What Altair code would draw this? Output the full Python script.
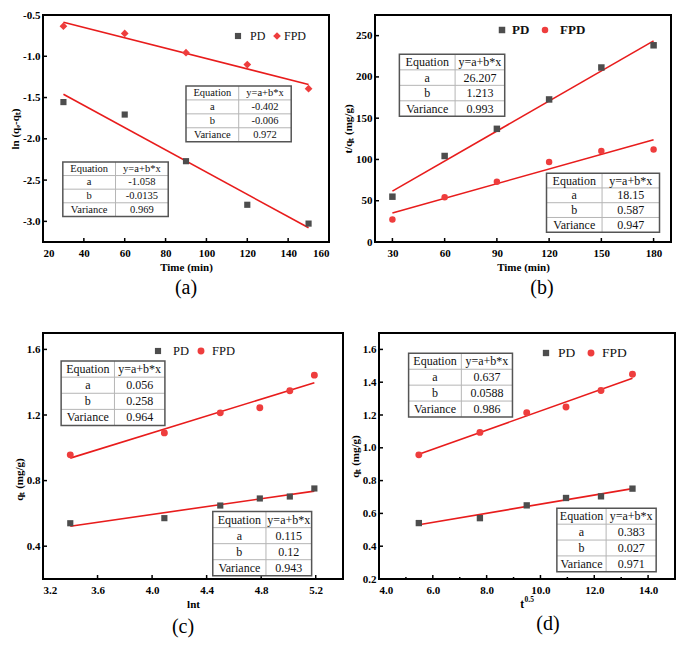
import altair as alt
import pandas as pd

FONT = "Liberation Serif"
PD_COLOR = "#4d4d4d"
FPD_COLOR = "#ee3d3d"
LINE_COLOR = "#e81c1c"

TABLE_LABELS = ["Equation", "a", "b", "Variance"]
TABLE_HEADER = "y=a+b*x"
SERIES = ["PD", "FPD"]

# ---------------- (a) pseudo-first-order ----------------
a_x = [30, 60, 90, 120, 150]
a_pd = [-1.555, -1.706, -2.271, -2.799, -3.027]
a_fpd = [-0.636, -0.724, -0.957, -1.101, -1.392]
a_fit_x = [30, 150]
a_fit_pd = [-1.46, -3.078]
a_fit_fpd = [-0.589, -1.341]
a_tab_pd = ["-1.058", "-0.0135", "0.969"]
a_tab_fpd = ["-0.402", "-0.006", "0.972"]
a_xticks = [20, 40, 60, 80, 100, 120, 140, 160]
a_yticks = [-3.0, -2.5, -2.0, -1.5, -1.0, -0.5]

# ---------------- (b) pseudo-second-order ----------------
b_x = [30, 60, 90, 120, 150, 180]
b_pd = [54.9, 104.2, 137.1, 172.7, 211.4, 238.3]
b_fpd = [27.3, 54.2, 73.1, 97.0, 110.2, 112.1]
b_fit_x = [30, 180]
b_fit_pd = [61.7, 243.6]
b_fit_fpd = [35.2, 123.9]
b_tab_pd = ["26.207", "1.213", "0.993"]
b_tab_fpd = ["18.15", "0.587", "0.947"]
b_xticks = [30, 60, 90, 120, 150, 180]
b_yticks = [0, 50, 100, 150, 200, 250]

# ---------------- (c) Elovich ----------------
c_x = [3.40, 4.09, 4.50, 4.79, 5.01, 5.19]
c_pd = [0.540, 0.571, 0.648, 0.691, 0.703, 0.752]
c_fpd = [0.957, 1.091, 1.213, 1.244, 1.348, 1.443]
c_fit_x = [3.40, 5.19]
c_fit_pd = [0.522, 0.736]
c_fit_fpd = [0.937, 1.397]
c_tab_pd = ["0.115", "0.12", "0.943"]
c_tab_fpd = ["0.056", "0.258", "0.964"]
c_xticks = [3.2, 3.6, 4.0, 4.4, 4.8, 5.2]
c_yticks = [0.4, 0.8, 1.2, 1.6]

# ---------------- (d) intra-particle diffusion ----------------
d_x = [5.48, 7.75, 9.49, 10.95, 12.25, 13.42]
d_pd = [0.541, 0.571, 0.649, 0.694, 0.704, 0.751]
d_fpd = [0.957, 1.094, 1.214, 1.249, 1.349, 1.449]
d_fit_x = [5.48, 13.42]
d_fit_pd = [0.531, 0.751]
d_fit_fpd = [0.961, 1.424]
d_tab_pd = ["0.383", "0.027", "0.971"]
d_tab_fpd = ["0.637", "0.0588", "0.986"]
d_xticks = [4.0, 6.0, 8.0, 10.0, 12.0, 14.0]
d_xminor = [5.0, 7.0, 9.0, 11.0, 13.0]
d_yticks = [0.2, 0.4, 0.6, 0.8, 1.0, 1.2, 1.4, 1.6]


def label_expr(fmt):
    return f"(datum.value < 0 ? '-' : '') + format(abs(datum.value), '{fmt}')"


def table_layers(values, box, fsize, X, Y):
    x0, xd, x1, yt, yb = box
    rh = (yb - yt) / 4.0
    bg = pd.DataFrame({"x": [x0], "x2": [x1], "y": [yt], "y2": [yb]})
    hl = pd.DataFrame({"x": [x0] * 3, "x2": [x1] * 3,
                       "y": [yt + rh * k for k in (1, 2, 3)]})
    hl["y2"] = hl["y"]
    vl = pd.DataFrame({"x": [xd], "x2": [xd], "y": [yt], "y2": [yb]})
    cells = pd.DataFrame({
        "x": [(x0 + xd) / 2] * 4 + [(xd + x1) / 2] * 4,
        "y": [yt + rh * (k + 0.5) for k in range(4)] * 2,
        "t": TABLE_LABELS + [TABLE_HEADER] + list(values),
    })
    X2, Y2 = alt.X2("x2:Q"), alt.Y2("y2:Q")
    return [
        alt.Chart(bg).mark_rect(fill="white", stroke=None).encode(x=X, x2=X2, y=Y, y2=Y2),
        alt.Chart(hl).mark_rule(color="#b5b5b5", strokeWidth=1).encode(x=X, x2=X2, y=Y, y2=Y2),
        alt.Chart(vl).mark_rule(color="#b5b5b5", strokeWidth=1).encode(x=X, x2=X2, y=Y, y2=Y2),
        alt.Chart(bg).mark_rect(fillOpacity=0, stroke="#555555", strokeWidth=1.5).encode(x=X, x2=X2, y=Y, y2=Y2),
        alt.Chart(cells).mark_text(font=FONT, fontSize=fsize, color="#111111",
                                   baseline="middle", align="center").encode(x=X, y=Y, text="t:N"),
    ]


def make_panel(c):
    W, H = c["W"], c["H"]
    xsc = alt.Scale(domain=c["xdom"], nice=False, zero=False)
    ysc = alt.Scale(domain=c["ydom"], nice=False, zero=False)
    common = dict(grid=False, ticks=False, tickSize=0, domain=False, labelFont=FONT,
                  labelFontWeight="bold", labelFontSize=11, labelColor="black",
                  titleFont=FONT, titleFontWeight="bold", titleFontSize=11,
                  titleColor="black")
    xaxis = alt.Axis(values=c["xticks"], labelExpr=label_expr(c["xfmt"]),
                     title=c["xtitle"], labelPadding=5, titlePadding=3, **common)
    yextra = {}
    if "titleY" in c:
        yextra["titleY"] = c["titleY"]
    yaxis = alt.Axis(values=c["yticks"], labelExpr=label_expr(c["yfmt"]),
                     title=c["ytitle"], labelPadding=3, titlePadding=2,
                     **yextra, **common)
    X = alt.X("x:Q", scale=xsc, axis=xaxis)
    Y = alt.Y("y:Q", scale=ysc, axis=yaxis)

    fit = pd.DataFrame({"x": c["fit_x"] * 2, "y": c["fit_pd"] + c["fit_fpd"],
                        "s": [SERIES[0]] * 2 + [SERIES[1]] * 2})
    pd_df = pd.DataFrame({"x": c["x"], "y": c["pd"]})
    fpd_df = pd.DataFrame({"x": c["x"], "y": c["fpd"]})

    layers = [
        alt.Chart(fit).mark_line(color=LINE_COLOR, strokeWidth=1.6).encode(x=X, y=Y, detail="s:N"),
        alt.Chart(pd_df).mark_point(shape="square", filled=True, size=c["psize"],
                                    color=PD_COLOR, opacity=1).encode(x=X, y=Y),
        alt.Chart(fpd_df).mark_point(shape=c["fshape"], filled=True, size=c["fsize"],
                                     color=FPD_COLOR, opacity=1).encode(x=X, y=Y),
        alt.Chart(pd.DataFrame({"x": c["xticks"]})).mark_rule(color="black", strokeWidth=1.5)
        .encode(x=X, y=alt.value(H), y2=alt.value(H - 4)),
        alt.Chart(pd.DataFrame({"y": c["yticks"]})).mark_rule(color="black", strokeWidth=1.5)
        .encode(y=Y, x=alt.value(0), x2=alt.value(4)),
    ]
    if c.get("xminor"):
        layers.append(
            alt.Chart(pd.DataFrame({"x": c["xminor"]})).mark_rule(color="black", strokeWidth=1.5)
            .encode(x=X, y=alt.value(H), y2=alt.value(H - 2)))
    for vals, box in c["tables"]:
        layers += table_layers(vals, box, c["tfont"], X, Y)

    # legend
    lg = c["legend"]
    ly = lg["y"]
    layers += [
        alt.Chart(pd.DataFrame({"t": [SERIES[0]]})).mark_point(
            shape="square", filled=True, size=c["psize"], color=PD_COLOR, opacity=1)
        .encode(x=alt.value(lg["m1"]), y=alt.value(ly)),
        alt.Chart(pd.DataFrame({"t": [SERIES[1]]})).mark_point(
            shape=c["fshape"], filled=True, size=c["fsize"], color=FPD_COLOR, opacity=1)
        .encode(x=alt.value(lg["m2"]), y=alt.value(ly)),
        alt.Chart(pd.DataFrame({"t": [SERIES[0]]})).mark_text(
            font=FONT, fontSize=lg["fs"], fontWeight=lg["fw"], align="left",
            baseline="middle", color="#111111")
        .encode(x=alt.value(lg["t1"]), y=alt.value(ly), text="t:N"),
        alt.Chart(pd.DataFrame({"t": [SERIES[1]]})).mark_text(
            font=FONT, fontSize=lg["fs"], fontWeight=lg["fw"], align="left",
            baseline="middle", color="#111111")
        .encode(x=alt.value(lg["t2"]), y=alt.value(ly), text="t:N"),
    ]
    if c.get("sup_title"):
        base, sup = c["sup_title"]
        layers += [
            alt.Chart(pd.DataFrame({"t": [base]})).mark_text(
                font=FONT, fontSize=11.5, fontWeight="bold", align="right",
                baseline="alphabetic", color="black")
            .encode(x=alt.value(W / 2 - 3), y=alt.value(H + 29), text="t:N"),
            alt.Chart(pd.DataFrame({"t": [sup]})).mark_text(
                font=FONT, fontSize=7.5, fontWeight="bold", align="left",
                baseline="alphabetic", color="black")
            .encode(x=alt.value(W / 2 - 2.5), y=alt.value(H + 23), text="t:N"),
        ]
    title = alt.TitleParams(c["letter"], orient="bottom", frame="group", anchor="middle",
                            font=FONT, fontSize=20, fontWeight="normal", color="black",
                            offset=c["toff"], dx=c["tdx"])
    return alt.layer(*layers).properties(width=W, height=H, title=title)


HA = 227
HC = 246

pa = make_panel(dict(
    W=286, H=HA, x=a_x, pd=a_pd, fpd=a_fpd, fit_x=a_fit_x, fit_pd=a_fit_pd, fit_fpd=a_fit_fpd,
    xdom=[20, 160], ydom=[-3.25, -0.5], xticks=a_xticks, yticks=a_yticks, xfmt=".0f", yfmt=".1f",
    xtitle="Time (min)", ytitle="ln (qₑ-qₜ)", fshape="diamond", psize=38, fsize=60,
    tables=[(a_tab_fpd, (90, 115.8, 141.5, -1.36, -2.035)),
            (a_tab_pd, (29.7, 55.5, 81.3, -2.28, -2.94))],
    tfont=10.5,
    legend=dict(y=21, m1=195, t1=207, m2=234, t2=241, fs=12, fw="normal"),
    letter="(a)", toff=6, tdx=0))

pb = make_panel(dict(
    W=296, H=HA, x=b_x, pd=b_pd, fpd=b_fpd, fit_x=b_fit_x, fit_pd=b_fit_pd, fit_fpd=b_fit_fpd,
    xdom=[20, 190], ydom=[0, 275], xticks=b_xticks, yticks=b_yticks, xfmt=".0f", yfmt=".0f",
    xtitle="Time (min)", ytitle="t/qₜ (mg/g)", fshape="circle", psize=42, fsize=42,
    tables=[(b_tab_pd, (34, 66, 94.5, 227.3, 152.3)),
            (b_tab_fpd, (118.5, 150.4, 183.4, 83.4, 11.8))],
    tfont=12,
    legend=dict(y=15, m1=127, t1=137, m2=170, t2=185, fs=13, fw="bold"),
    letter="(b)", toff=6, tdx=19))

pc = make_panel(dict(
    W=300, H=HC, x=c_x, pd=c_pd, fpd=c_fpd, fit_x=c_fit_x, fit_pd=c_fit_pd, fit_fpd=c_fit_fpd,
    xdom=[3.2, 5.4], ydom=[0.2, 1.7], xticks=c_xticks, yticks=c_yticks, xfmt=".1f", yfmt=".1f",
    xtitle="lnt", ytitle="qₜ (mg/g)", titleY=HC / 2 + 23, fshape="circle", psize=38, fsize=48,
    tables=[(c_tab_fpd, (3.333, 3.724, 4.094, 1.529, 1.136)),
            (c_tab_pd, (4.445, 4.835, 5.17, 0.611, 0.220))],
    tfont=12,
    legend=dict(y=18, m1=115, t1=130, m2=158, t2=169, fs=12.5, fw="normal"),
    letter="(c)", toff=8, tdx=-10))

pdd = make_panel(dict(
    W=296, H=HC, x=d_x, pd=d_pd, fpd=d_fpd, fit_x=d_fit_x, fit_pd=d_fit_pd, fit_fpd=d_fit_fpd,
    xdom=[4, 15], ydom=[0.2, 1.7], xticks=d_xticks, xminor=d_xminor, yticks=d_yticks,
    xfmt=".1f", yfmt=".1f", xtitle="", ytitle="qₜ (mg/g)", fshape="circle", psize=40, fsize=48,
    sup_title=("t", "0.5"),
    tables=[(d_tab_fpd, (5.10, 7.06, 8.96, 1.576, 1.188)),
            (d_tab_pd, (10.61, 12.44, 14.30, 0.631, 0.244))],
    tfont=12,
    legend=dict(y=20, m1=167, t1=179, m2=212, t2=223, fs=13.5, fw="normal"),
    letter="(d)", toff=3, tdx=21))

row1 = alt.hconcat(pa, pb, spacing=46, bounds="flush")
row2 = alt.hconcat(pc, pdd, spacing=36, bounds="flush")

chart = alt.vconcat(row1, row2, spacing=33).properties(
    padding={"left": 0, "top": 0, "right": 0, "bottom": 0},
    autosize=alt.AutoSizeParams(type="pad"),
).configure(padding=0).configure_view(stroke="black", strokeWidth=2)

chart.save("out.html", embed_options={"renderer": "svg", "actions": False})
